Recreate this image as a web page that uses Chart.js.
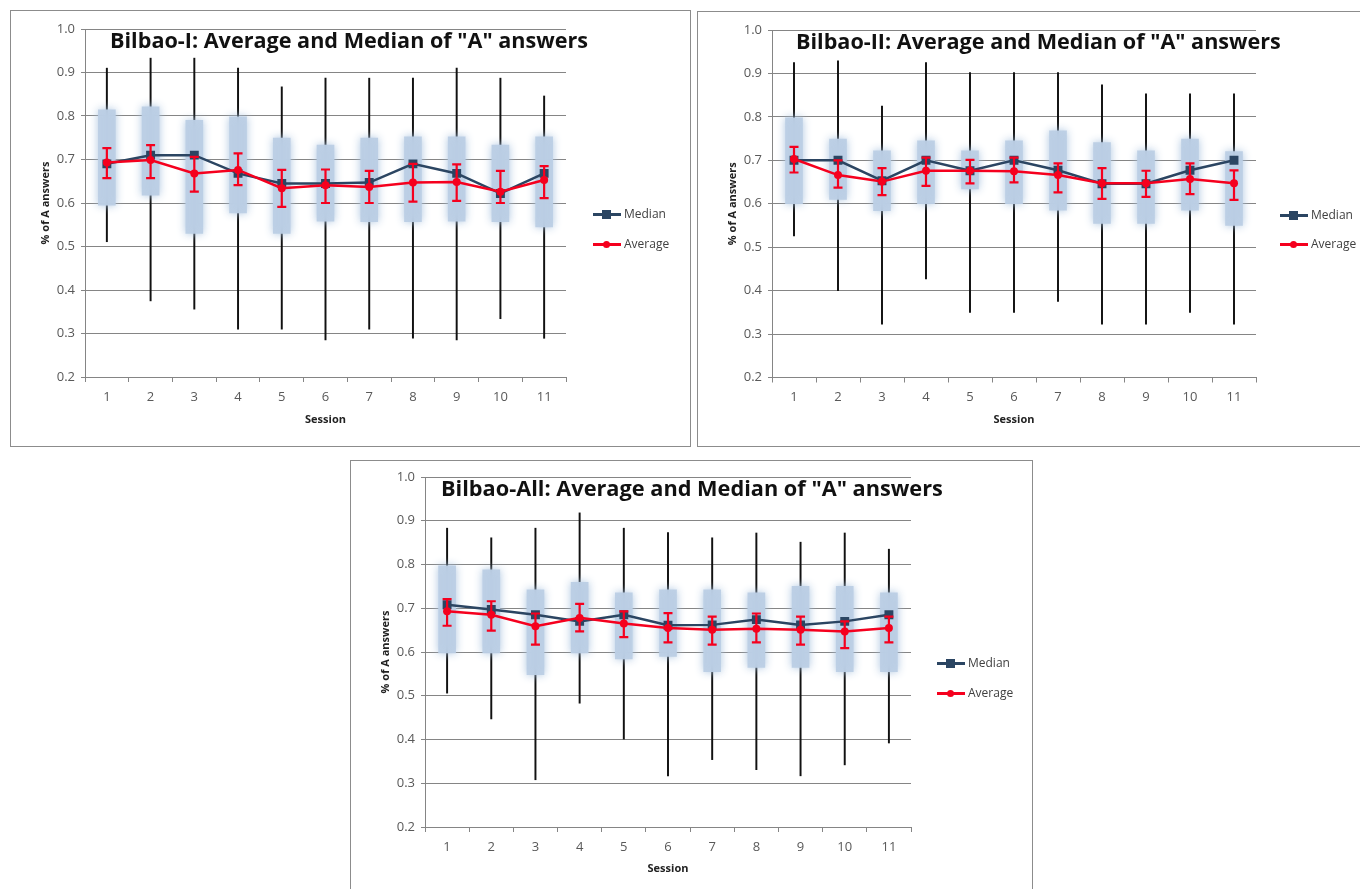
<!DOCTYPE html>
<html>
<head>
<meta charset="utf-8">
<script src="https://cdn.jsdelivr.net/npm/chart.js@4.4.0/dist/chart.umd.min.js"></script>
<style>
body { margin: 0; background: #fff; width: 1360px; height: 889px; overflow: hidden; position: relative; font-family: 'Open Sans', sans-serif; }
.frame { position: absolute; border: 1px solid #8c8c8c; box-sizing: border-box; }
canvas { position: absolute; }
.item { position: absolute; white-space: nowrap; height: 16px; line-height: 16px; font-size: 12px; color: #404040; padding-left: 31px; }
.sym { position: absolute; left: 0; top: 7px; width: 28px; height: 3px; }
.sym i { position: absolute; left: 9px; top: -3px; width: 9px; height: 9px; }
.sym i.dot { left: 10px; top: -2px; width: 7px; height: 7px; border-radius: 50%; }
</style>
</head>
<body>
<div class="frame" style="left:10px;top:10px;width:681px;height:437px;"></div>
<div class="frame" style="left:697px;top:11px;width:680px;height:436px;"></div>
<div class="frame" style="left:350px;top:460px;width:683px;height:440px;"></div>

<canvas id="chart-1" width="679" height="435" style="left:11px;top:11px;"></canvas>
<canvas id="chart-2" width="662" height="434" style="left:698px;top:12px;"></canvas>
<canvas id="chart-3" width="681" height="428" style="left:351px;top:461px;"></canvas>

<div class="item" style="left:593px;top:206px;"><span class="sym" style="background:#2b4562"><i style="background:#2b4562"></i></span>Median</div>
<div class="item" style="left:593px;top:236px;"><span class="sym" style="background:#f5001e"><i class="dot" style="background:#f5001e"></i></span>Average</div>
<div class="item" style="left:1280px;top:207px;"><span class="sym" style="background:#2b4562"><i style="background:#2b4562"></i></span>Median</div>
<div class="item" style="left:1280px;top:236px;"><span class="sym" style="background:#f5001e"><i class="dot" style="background:#f5001e"></i></span>Average</div>
<div class="item" style="left:937px;top:655px;"><span class="sym" style="background:#2b4562"><i style="background:#2b4562"></i></span>Median</div>
<div class="item" style="left:937px;top:685px;"><span class="sym" style="background:#f5001e"><i class="dot" style="background:#f5001e"></i></span>Average</div>

<script>
var sessions = ['1', '2', '3', '4', '5', '6', '7', '8', '9', '10', '11'];

// Bilbao-I
var b1Max = [0.91, 0.933, 0.933, 0.91, 0.867, 0.887, 0.887, 0.887, 0.91, 0.887, 0.846];
var b1Min = [0.511, 0.375, 0.356, 0.31, 0.31, 0.285, 0.31, 0.289, 0.285, 0.334, 0.289];
var b1Q3 = [0.814, 0.821, 0.79, 0.798, 0.749, 0.733, 0.749, 0.752, 0.752, 0.733, 0.752];
var b1Q1 = [0.595, 0.618, 0.53, 0.577, 0.53, 0.558, 0.557, 0.557, 0.558, 0.557, 0.545];
var b1Median = [0.69, 0.71, 0.71, 0.668, 0.645, 0.645, 0.647, 0.69, 0.668, 0.622, 0.668];
var b1Avg = [0.693, 0.699, 0.668, 0.676, 0.634, 0.641, 0.637, 0.647, 0.648, 0.626, 0.653];
var b1AvgHi = [0.726, 0.733, 0.706, 0.714, 0.676, 0.677, 0.674, 0.69, 0.689, 0.674, 0.685];
var b1AvgLo = [0.657, 0.657, 0.626, 0.641, 0.591, 0.6, 0.6, 0.603, 0.605, 0.6, 0.611];

// Bilbao-II
var b2Max = [0.925, 0.929, 0.825, 0.925, 0.902, 0.902, 0.902, 0.874, 0.853, 0.853, 0.853];
var b2Min = [0.526, 0.4, 0.323, 0.427, 0.35, 0.35, 0.375, 0.323, 0.323, 0.35, 0.323];
var b2Q3 = [0.798, 0.749, 0.722, 0.745, 0.722, 0.745, 0.768, 0.741, 0.722, 0.749, 0.72];
var b2Q1 = [0.6, 0.61, 0.584, 0.6, 0.634, 0.6, 0.585, 0.555, 0.555, 0.585, 0.55];
var b2Median = [0.7, 0.7, 0.653, 0.7, 0.676, 0.7, 0.677, 0.646, 0.646, 0.677, 0.7];
var b2Avg = [0.703, 0.666, 0.651, 0.676, 0.676, 0.675, 0.666, 0.647, 0.647, 0.657, 0.647];
var b2AvgHi = [0.731, 0.7, 0.682, 0.706, 0.701, 0.706, 0.693, 0.682, 0.676, 0.693, 0.677];
var b2AvgLo = [0.672, 0.637, 0.62, 0.641, 0.647, 0.649, 0.626, 0.611, 0.616, 0.622, 0.609];

// Bilbao-All
var b3Max = [0.883, 0.861, 0.883, 0.918, 0.883, 0.873, 0.861, 0.872, 0.851, 0.872, 0.835];
var b3Min = [0.506, 0.447, 0.308, 0.483, 0.401, 0.317, 0.354, 0.331, 0.317, 0.342, 0.392];
var b3Q3 = [0.797, 0.788, 0.742, 0.759, 0.735, 0.742, 0.742, 0.735, 0.75, 0.75, 0.735];
var b3Q1 = [0.598, 0.598, 0.548, 0.598, 0.584, 0.59, 0.555, 0.565, 0.565, 0.555, 0.555];
var b3Median = [0.708, 0.697, 0.685, 0.67, 0.685, 0.661, 0.662, 0.674, 0.662, 0.67, 0.685];
var b3Avg = [0.693, 0.685, 0.659, 0.678, 0.665, 0.655, 0.651, 0.653, 0.651, 0.647, 0.655];
var b3AvgHi = [0.721, 0.716, 0.688, 0.71, 0.693, 0.689, 0.681, 0.688, 0.681, 0.67, 0.681];
var b3AvgLo = [0.66, 0.649, 0.617, 0.647, 0.634, 0.622, 0.617, 0.622, 0.617, 0.609, 0.622];

var gridColor = '#858585';
var medianColor = '#2b4562';
var avgColor = '#f5001e';

Chart.defaults.font.family = "'Open Sans', sans-serif";
Chart.defaults.animation = false;

// fuzzy edge on the quartile boxes
var blurPlugin = {
    id: 'blurBoxes',
    beforeDatasetDraw: function(chart, args) {
        if (!chart.data.datasets[args.index].blur) return;
        chart.ctx.save();
        chart.ctx.shadowColor = 'rgba(168,194,222,1)';
        chart.ctx.shadowBlur = 8;
    },
    afterDatasetDraw: function(chart, args) {
        if (!chart.data.datasets[args.index].blur) return;
        chart.ctx.restore();
    }
};

var errorBarPlugin = {
    id: 'errorBars',
    afterDatasetDraw: function(chart, args) {
        var ds = chart.data.datasets[args.index];
        if (!ds.errLo) return;
        var ctx = chart.ctx;
        var y = chart.scales.y;
        ctx.save();
        ctx.strokeStyle = ds.borderColor;
        ctx.lineWidth = 2.2;
        args.meta.data.forEach(function(pt, i) {
            var top = y.getPixelForValue(ds.errHi[i]);
            var bot = y.getPixelForValue(ds.errLo[i]);
            ctx.beginPath();
            ctx.moveTo(pt.x, top);
            ctx.lineTo(pt.x, bot);
            ctx.moveTo(pt.x - 4.5, top);
            ctx.lineTo(pt.x + 4.5, top);
            ctx.moveTo(pt.x - 4.5, bot);
            ctx.lineTo(pt.x + 4.5, bot);
            ctx.stroke();
        });
        ctx.restore();
    }
};

// title drawn inside the plot area, like the original
var innerTitlePlugin = {
    id: 'innerTitle',
    afterDraw: function(chart) {
        var o = chart.options.plugins.innerTitle;
        if (!o || !o.text) return;
        var ctx = chart.ctx;
        ctx.save();
        ctx.font = 'bold 20px "Open Sans"';
        var w = ctx.measureText(o.text).width;
        var size = 20 * o.width / w;
        ctx.font = 'bold ' + size.toFixed(2) + 'px "Open Sans"';
        ctx.fillStyle = '#111';
        ctx.textBaseline = 'middle';
        ctx.fillText(o.text, chart.chartArea.left + o.dx, chart.chartArea.top + 12.5);
        ctx.restore();
    }
};

function pairs(lo, hi) {
    var out = [];
    for (var i = 0; i < lo.length; i++) {
        out.push([lo[i], hi[i]]);
    }
    return out;
}

function buildBoxChart(id, title, titleDx, titleWidth, mins, maxs, q1, q3, med, avg, avgLo, avgHi, pad, xHeight) {
    var ctx = document.getElementById(id);
    return new Chart(ctx, {
        type: 'bar',
        data: {
            labels: sessions,
            datasets: [{
                label: 'Range',
                data: pairs(mins, maxs),
                backgroundColor: '#111',
                barThickness: 1.3,
                grouped: false,
                order: 4
            }, {
                label: 'Quartiles',
                data: pairs(q1, q3),
                backgroundColor: 'rgba(188,207,229,0.95)',
                barThickness: 17,
                grouped: false,
                blur: true,
                order: 3
            }, {
                type: 'line',
                label: 'Median',
                data: med,
                borderColor: medianColor,
                backgroundColor: medianColor,
                borderWidth: 2.5,
                pointStyle: 'rect',
                pointRadius: 6.3,
                pointBorderWidth: 0,
                order: 2
            }, {
                type: 'line',
                label: 'Average',
                data: avg,
                errLo: avgLo,
                errHi: avgHi,
                borderColor: avgColor,
                backgroundColor: avgColor,
                borderWidth: 2.5,
                pointStyle: 'circle',
                pointRadius: 4,
                pointBorderWidth: 0,
                order: 1
            }]
        },
        options: {
            responsive: false,
            devicePixelRatio: 1,
            layout: { padding: pad },
            plugins: {
                legend: { display: false },
                tooltip: { enabled: false },
                innerTitle: { text: title, dx: titleDx, width: titleWidth }
            },
            scales: {
                x: {
                    offset: true,
                    grid: { display: true, drawOnChartArea: false, offset: true, tickLength: 5, color: gridColor },
                    border: { color: gridColor },
                    ticks: { color: '#595959', font: { size: 13 }, padding: 7 },
                    title: { display: true, text: 'Session', color: '#222', font: { size: 11, weight: 'bold' }, padding: 4 },
                    afterFit: function(scale) { scale.height = xHeight; }
                },
                y: {
                    min: 0.2,
                    max: 1.0,
                    ticks: {
                        stepSize: 0.1,
                        color: '#595959',
                        font: { size: 13 },
                        padding: 6,
                        callback: function(v) { return v.toFixed(1); }
                    },
                    grid: { color: gridColor, tickLength: 4 },
                    border: { color: gridColor },
                    title: { display: true, text: '% of A answers', color: '#222', font: { size: 11, weight: 'bold' }, padding: 4 },
                    afterFit: function(scale) { scale.width = 50; }
                }
            }
        },
        plugins: [blurPlugin, errorBarPlugin, innerTitlePlugin]
    });
}

buildBoxChart('chart-1', 'Bilbao-I: Average and Median of "A" answers', 25, 478,
    b1Min, b1Max, b1Q1, b1Q3, b1Median, b1Avg, b1AvgLo, b1AvgHi,
    { top: 18, right: 124, bottom: 16, left: 24 }, 53);

buildBoxChart('chart-2', 'Bilbao-II: Average and Median of "A" answers', 24, 485,
    b2Min, b2Max, b2Q1, b2Q3, b2Median, b2Avg, b2AvgLo, b2AvgHi,
    { top: 18, right: 104, bottom: 16, left: 24 }, 52.5);

buildBoxChart('chart-3', 'Bilbao-All: Average and Median of "A" answers', 16, 502,
    b3Min, b3Max, b3Q1, b3Q3, b3Median, b3Avg, b3AvgLo, b3AvgHi,
    { top: 16, right: 121, bottom: 10, left: 24 }, 52);
</script>
</body>
</html>
